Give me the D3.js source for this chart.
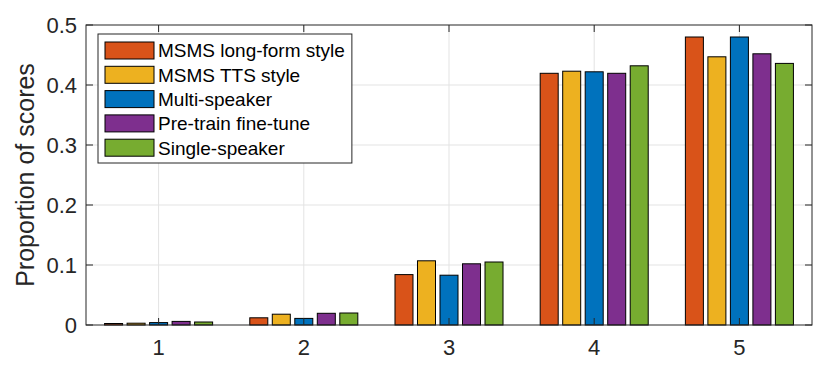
<!DOCTYPE html>
<html lang="en">
<head>
<meta charset="UTF-8">
<title>Proportion of scores</title>
<style>
  body { margin: 0; background: #fff; }
  svg { display: block; font-family: "Liberation Sans", Arial, sans-serif; }
</style>
</head>
<body>
<script src="https://d3js.org/d3.v7.min.js"></script>
<script>
// score categories and series proportions
const categories = [1, 2, 3, 4, 5]
const seriesNames = ['MSMS long-form style', 'MSMS TTS style', 'Multi-speaker', 'Pre-train fine-tune', 'Single-speaker']
const longForm = [0.0025, 0.012, 0.084, 0.4195, 0.480]
const ttsStyle = [0.003, 0.018, 0.107, 0.423, 0.447]
const multiSpeaker = [0.004, 0.011, 0.083, 0.422, 0.480]
const pretrainFinetune = [0.006, 0.0195, 0.102, 0.4195, 0.452]
const singleSpeaker = [0.005, 0.020, 0.105, 0.432, 0.436]
const yTicks = [0, 0.1, 0.2, 0.3, 0.4, 0.5]

const colors = ['#D95319', '#EDB120', '#0072BD', '#7E2F8E', '#77AC30']
const series = [longForm, ttsStyle, multiSpeaker, pretrainFinetune, singleSpeaker]

const width = 830
const height = 373
const margin = { left: 86, right: 18, top: 25, bottom: 48 }
const axisColor = '#262626'

const svg = d3.select('body')
    .append('svg')
    .attr('width', width)
    .attr('height', height)

const x = d3.scaleLinear()
    .domain([0.5, 5.5])
    .range([margin.left, width - margin.right])
const y = d3.scaleLinear()
    .domain([0, 0.5])
    .range([height - margin.bottom, margin.top])

const groupStep = 0.155
const barW = 0.124

// grid
const grid = svg.append('g').attr('class', 'grid')
yTicks.slice(1, -1).forEach(t => {
    grid.append('line')
        .attr('x1', x(0.5)).attr('x2', x(5.5))
        .attr('y1', y(t)).attr('y2', y(t))
        .attr('stroke', '#e3e3e3').attr('stroke-width', 1)
})
categories.forEach(c => {
    grid.append('line')
        .attr('x1', x(c)).attr('x2', x(c))
        .attr('y1', y(0)).attr('y2', y(0.5))
        .attr('stroke', '#e3e3e3').attr('stroke-width', 1)
})

// bars
series.forEach((vals, i) => {
    svg.append('g')
        .selectAll('rect')
        .data(vals)
        .join('rect')
        .attr('x', (d, j) => x(categories[j] + (i - 2) * groupStep - barW / 2))
        .attr('width', x(barW) - x(0))
        .attr('y', d => y(d))
        .attr('height', d => y(0) - y(d))
        .attr('fill', colors[i])
        .attr('stroke', '#000')
        .attr('stroke-width', 1)
})

// axes box
const tickLen = 7
const axes = svg.append('g').attr('stroke', axisColor).attr('fill', 'none')
axes.append('rect')
    .attr('x', x(0.5)).attr('y', y(0.5))
    .attr('width', x(5.5) - x(0.5)).attr('height', y(0) - y(0.5))
    .attr('stroke-width', 1)
yTicks.forEach(t => {
    axes.append('line').attr('x1', x(0.5)).attr('x2', x(0.5) + tickLen).attr('y1', y(t)).attr('y2', y(t))
    axes.append('line').attr('x1', x(5.5)).attr('x2', x(5.5) - tickLen).attr('y1', y(t)).attr('y2', y(t))
})
categories.forEach(c => {
    axes.append('line').attr('x1', x(c)).attr('x2', x(c)).attr('y1', y(0)).attr('y2', y(0) - tickLen)
    axes.append('line').attr('x1', x(c)).attr('x2', x(c)).attr('y1', y(0.5)).attr('y2', y(0.5) + tickLen)
})

// tick labels
svg.append('g')
    .selectAll('text')
    .data(yTicks)
    .join('text')
    .attr('x', x(0.5) - 9)
    .attr('y', d => y(d))
    .attr('dy', '0.36em')
    .attr('text-anchor', 'end')
    .attr('font-size', 22)
    .attr('fill', axisColor)
    .text(d => d === 0 ? '0' : d3.format('.1f')(d))

svg.append('g')
    .selectAll('text')
    .data(categories)
    .join('text')
    .attr('x', d => x(d))
    .attr('y', y(0) + 30)
    .attr('text-anchor', 'middle')
    .attr('font-size', 22)
    .attr('fill', axisColor)
    .text(d => d)

svg.append('text')
    .attr('transform', `translate(34, ${(y(0) + y(0.5)) / 2}) rotate(-90)`)
    .attr('text-anchor', 'middle')
    .attr('font-size', 25)
    .attr('fill', axisColor)
    .text('Proportion of scores')

// legend
const lg = svg.append('g').attr('transform', 'translate(98, 34)')
const lgBox = lg.append('rect')
    .attr('height', 129)
    .attr('fill', '#fff').attr('stroke', '#262626').attr('stroke-width', 1)
let maxLen = 0
seriesNames.forEach((name, i) => {
    const row = lg.append('g').attr('transform', `translate(0, ${16.5 + i * 24.3})`)
    row.append('rect')
        .attr('x', 7).attr('y', -8.5)
        .attr('width', 49).attr('height', 17)
        .attr('fill', colors[i]).attr('stroke', '#000').attr('stroke-width', 1)
    const t = row.append('text')
        .attr('x', 60).attr('y', 0)
        .attr('dy', '0.36em')
        .attr('font-size', 19)
        .attr('fill', '#000')
        .text(name)
    maxLen = Math.max(maxLen, t.node().getComputedTextLength())
})
lgBox.attr('width', 60 + maxLen + 7)
</script>
</body>
</html>
